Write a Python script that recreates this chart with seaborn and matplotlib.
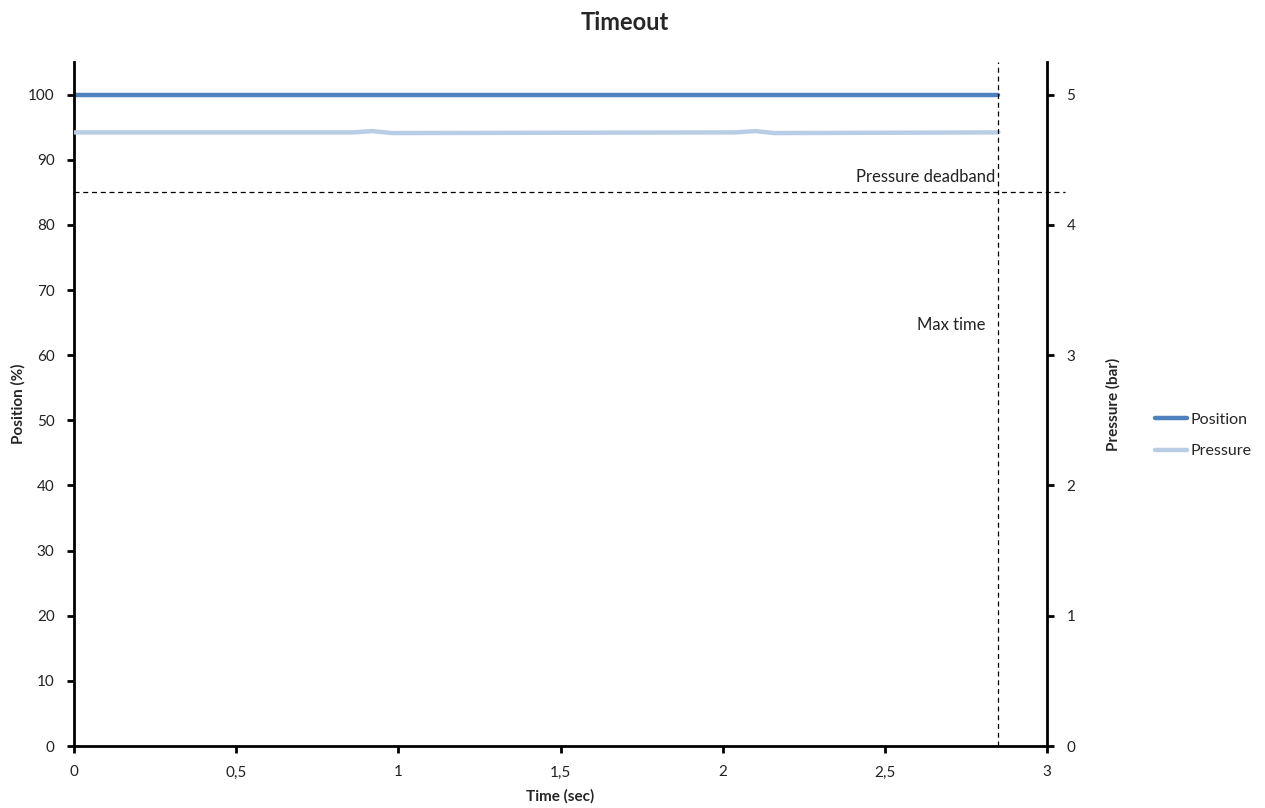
import matplotlib
matplotlib.use("Agg")
import matplotlib.pyplot as plt
from matplotlib.lines import Line2D
import seaborn as sns
import pandas as pd

# Recorded signals
time_sec = [0.0, 0.86, 0.92, 0.98, 2.04, 2.10, 2.16, 2.85]
position_pct = [100, 100, 100, 100, 100, 100, 100, 100]
pressure_bar = [4.71, 4.71, 4.72, 4.705, 4.71, 4.72, 4.705, 4.71]

# Limits
max_time = 2.85
pressure_deadband = 4.25

x_ticks = [0, 0.5, 1, 1.5, 2, 2.5, 3]
x_tick_labels = ["0", "0,5", "1", "1,5", "2", "2,5", "3"]
pos_ticks = [0, 10, 20, 30, 40, 50, 60, 70, 80, 90, 100]
pres_ticks = [0, 1, 2, 3, 4, 5]

sns.set_theme(style="white")
plt.rcParams["font.family"] = ["Lato", "DejaVu Sans"]

df = pd.DataFrame({"time": time_sec, "position": position_pct, "pressure": pressure_bar})

fig = plt.figure(figsize=(12.65, 8.08), dpi=100)
ax = fig.add_axes([0.0585, 0.0767, 0.7692, 0.8465])
ax2 = ax.twinx()

pos_color = "#4f81bd"
pres_color = "#b9cde5"

sns.lineplot(data=df, x="time", y="pressure", ax=ax2, color=pres_color, linewidth=3.2)
sns.lineplot(data=df, x="time", y="position", ax=ax, color=pos_color, linewidth=3.2)

ax.set_xlim(0, 3)
ax.set_ylim(0, 105)
ax2.set_ylim(0, 5.25)
ax.set_xticks(x_ticks)
ax.set_xticklabels(x_tick_labels)
ax.set_yticks(pos_ticks)
ax2.set_yticks(pres_ticks)

for a in (ax, ax2):
    for s in a.spines.values():
        s.set_visible(False)
ax.spines["left"].set_visible(True)
ax.spines["bottom"].set_visible(True)
ax2.spines["right"].set_visible(True)
for s in (ax.spines["left"], ax.spines["bottom"], ax2.spines["right"]):
    s.set_color("black")
    s.set_linewidth(2)

ax.tick_params(axis="both", direction="out", length=5, width=2, color="black",
               labelsize=11, labelcolor="#222222", pad=9, left=True, bottom=True)
ax2.tick_params(axis="y", direction="out", length=5, width=2, color="black",
                labelsize=11, labelcolor="#222222", pad=9, right=True)

ax.set_xlabel("Time (sec)", fontsize=11, fontweight="bold", labelpad=7)
ax.set_ylabel("Position (%)", fontsize=11, fontweight="bold")
ax2.set_ylabel("Pressure (bar)", fontsize=11, fontweight="bold")
ax.yaxis.set_label_coords(-0.050, 0.5)
ax2.yaxis.set_label_coords(1.061, 0.5)

# Reference lines
ax2.axvline(max_time, color="black", linestyle=(0, (4, 3)), linewidth=0.9)
ax2.plot([0, 3.055], [pressure_deadband, pressure_deadband], color="black",
         linestyle=(0, (4, 3)), linewidth=0.9, clip_on=False)
ax2.text(max_time - 0.01, pressure_deadband + 0.06, "Pressure deadband",
         ha="right", va="bottom", fontsize=12, color="#222222")
ax2.text(max_time - 0.04, 3.23, "Max time", ha="right", va="center",
         fontsize=12, color="#222222")

fig.suptitle("Timeout", x=0.494, y=0.987, fontsize=17, fontweight="bold")

handles = [Line2D([], [], color=pos_color, linewidth=3.2),
           Line2D([], [], color=pres_color, linewidth=3.2)]
fig.legend(handles, ["Position", "Pressure"], loc="center left",
           bbox_to_anchor=(0.902, 0.461), frameon=False, fontsize=11.5,
           handlelength=2.0, handletextpad=0.2, labelspacing=1.1)

fig.savefig("out.png", dpi=100)
